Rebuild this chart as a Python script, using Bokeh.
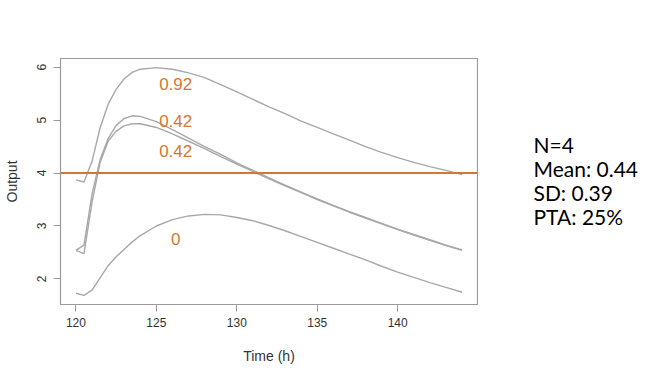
from bokeh.plotting import figure
from bokeh.models import Span, Range1d, FixedTicker
from bokeh.layouts import row
from bokeh.core.properties import value
from bokeh.embed import file_html
from bokeh.resources import INLINE

time_h = [120, 120.5, 121, 121.5, 122, 122.5, 123, 123.5, 124, 125, 126, 127, 128, 129, 130,
          131, 132, 133, 134, 135, 136, 137, 138, 139, 140, 141, 142, 143, 144]
series_a = [3.87, 3.83, 4.22, 4.85, 5.30, 5.58, 5.78, 5.90, 5.96, 5.99, 5.96, 5.89, 5.80, 5.67, 5.53,
            5.39, 5.25, 5.12, 4.98, 4.86, 4.74, 4.62, 4.50, 4.39, 4.29, 4.20, 4.12, 4.05, 3.97]
series_b = [2.54, 2.64, 3.60, 4.25, 4.65, 4.90, 5.03, 5.08, 5.07, 4.97, 4.82, 4.66, 4.50, 4.35, 4.19,
            4.05, 3.91, 3.77, 3.64, 3.51, 3.39, 3.27, 3.16, 3.05, 2.94, 2.84, 2.74, 2.64, 2.55]
series_c = [2.54, 2.48, 3.45, 4.20, 4.60, 4.79, 4.89, 4.93, 4.93, 4.86, 4.74, 4.60, 4.46, 4.31, 4.17,
            4.03, 3.89, 3.76, 3.63, 3.50, 3.38, 3.26, 3.15, 3.04, 2.93, 2.83, 2.73, 2.63, 2.54]
series_d = [1.73, 1.69, 1.79, 2.02, 2.25, 2.42, 2.56, 2.70, 2.82, 3.00, 3.12, 3.19, 3.22, 3.21, 3.16,
            3.10, 3.01, 2.91, 2.80, 2.69, 2.58, 2.47, 2.36, 2.24, 2.13, 2.03, 1.93, 1.84, 1.75]

label_texts = ["0.92", "0.42", "0.42", "0"]
label_x = [126.2, 126.2, 126.2, 126.2]
label_y = [5.69, 4.975, 4.42, 2.76]

target = 4
stats_lines = ["N=4", "Mean: 0.44", "SD: 0.39", "PTA: 25%"]
x_ticks = [120, 125, 130, 135, 140]
y_ticks = [2, 3, 4, 5, 6]

ORANGE = "#D8762E"
GRAY = "#a8a8a8"

all_y = series_a + series_b + series_c + series_d
xmin, xmax = min(time_h), max(time_h)
ymin, ymax = min(all_y), max(all_y)
xpad = 0.04 * (xmax - xmin)
ypad = 0.04 * (ymax - ymin)
x0, x1 = xmin - xpad, xmax + xpad
y0, y1 = ymin - ypad, ymax + ypad

W, H = 658, 377
PW = 478          # width of the chart panel (frame ends at x=477)
ML, MT, MB = 58, 58, 73

p = figure(width=PW, height=H, output_backend="svg", toolbar_location=None,
           x_range=Range1d(x0, x1), y_range=Range1d(y0, y1),
           min_border_left=ML, min_border_right=1, min_border_top=MT, min_border_bottom=MB)
p.xgrid.visible = False
p.ygrid.visible = False
p.outline_line_color = "#9a9a9a"
p.outline_line_width = 1.2
p.background_fill_color = "white"
p.border_fill_color = "white"

for ax in (p.xaxis, p.yaxis):
    ax.axis_line_color = "#9a9a9a"
    ax.major_tick_line_color = "#9a9a9a"
    ax.major_tick_out = 7
    ax.major_tick_in = 0
    ax.minor_tick_line_color = None
    ax.major_label_text_font = "Liberation Sans"
    ax.major_label_text_font_size = "12px"
    ax.major_label_text_color = "#333333"
    ax.axis_label_text_font = "Liberation Sans"
    ax.axis_label_text_font_size = "14px"
    ax.axis_label_text_font_style = "normal"
    ax.axis_label_text_color = "#333333"

p.xaxis.ticker = FixedTicker(ticks=x_ticks)
p.yaxis.ticker = FixedTicker(ticks=y_ticks)
p.xaxis.axis_label = "Time (h)"
p.yaxis.axis_label = "Output"
p.yaxis.major_label_orientation = "vertical"
p.xaxis.major_label_standoff = 6
p.yaxis.major_label_standoff = 7
p.xaxis.axis_label_standoff = 18
p.yaxis.axis_label_standoff = 15

for s in (series_a, series_b, series_c, series_d):
    p.line(time_h, s, line_color=GRAY, line_width=1.4)

p.add_layout(Span(location=target, dimension="width", line_color=ORANGE, line_width=2))

p.text(x=label_x, y=label_y, text=label_texts, text_color=ORANGE,
       text_font=value("Liberation Sans"), text_font_size="17px",
       text_align="center", text_baseline="middle")

# side panel with the summary statistics (its frame is aligned with the chart frame)
SW = W - PW
q = figure(width=SW, height=H, output_backend="svg", toolbar_location=None,
           x_range=Range1d(0, SW), y_range=Range1d(MB, H - MT),
           min_border_left=0, min_border_right=0, min_border_top=MT, min_border_bottom=MB,
           outline_line_color=None)
q.axis.visible = False
q.grid.visible = False
q.border_fill_color = "white"
stat_x = [533 - PW] * len(stats_lines)
stat_y = [H - (144 + 24 * i) for i in range(len(stats_lines))]
q.text(x=stat_x, y=stat_y, text=stats_lines, text_color="#000000",
       text_font=value("Lato"), text_font_size="21px",
       text_align="left", text_baseline="alphabetic")

layout = row(p, q, spacing=0)
open("out.html", "w").write(file_html(layout, INLINE))
